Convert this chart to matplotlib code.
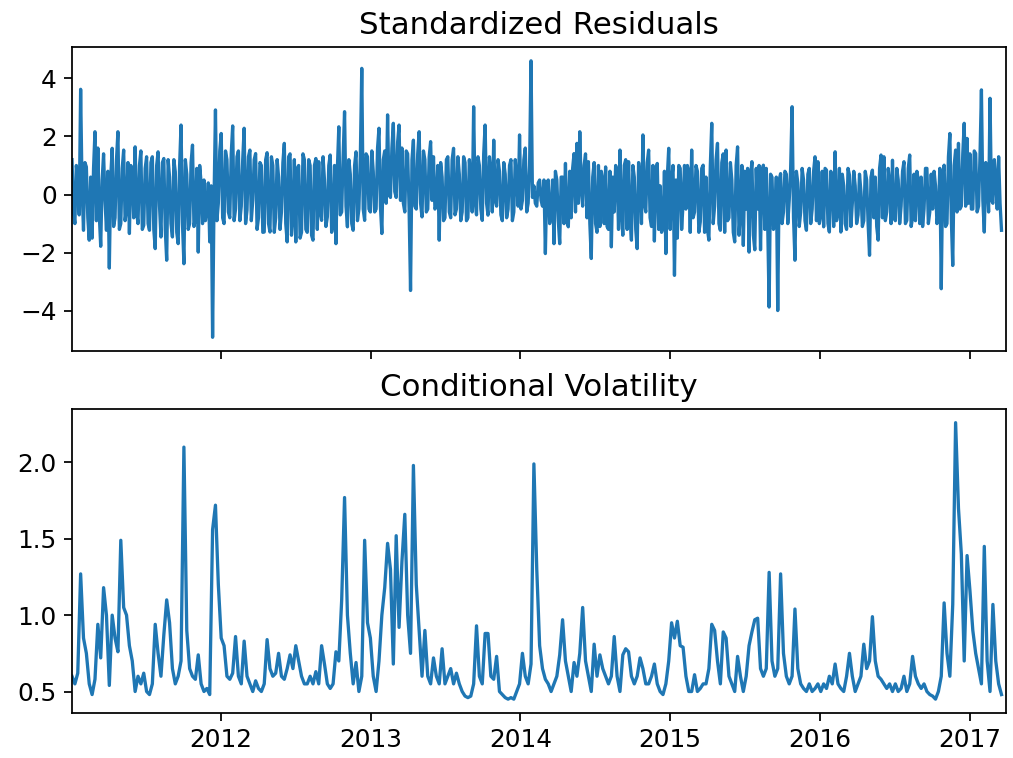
import matplotlib
matplotlib.use('Agg')
import matplotlib.pyplot as plt
import matplotlib.dates as mdates
import pandas as pd

# weekly readings of the GARCH fit output, Jan 2011 - Mar 2017
fecha_inicio = '2011-01-03'
fecha_fin = '2017-03-31'

# residuals read at the start of each week
residuos = [
    1.2, -1.0, 0.5, 3.62, -1.23, 0.95, -1.57, -1.5, 2.16, 1.6,
    -1.78, 1.4, -1.23, -2.53, 1.59, -0.8, 2.16, -1.0, 1.53, -0.5,
    -1.34, 0.8, 1.64, -1.0, 1.5, -1.06, 1.3, -1.23, 1.3, -1.86,
    1.47, -1.46, 1.24, -2.26, 0.6, -1.46, 0.78, -1.69, 2.39, -2.38,
    0.7, -1.0, 1.7, -0.8, -1.98, 0.4, 0.5, -0.5, -1.63, -4.91,
    2.91, -0.3, 2.1, -1.0, 1.2, -0.8, 2.36, -0.5, 1.5, -0.4,
    2.28, -0.54, 1.53, -0.2, 1.41, -0.8, 1.0, -1.29, 1.44, -1.29,
    1.0, -0.8, 0.6, -0.6, 1.76, -1.63, 1.4, -0.8, -1.63, 1.0,
    -1.3, 1.2, -1.3, 1.0, -1.57, 1.24, 1.13, -0.89, 0.5, -0.77,
    1.36, -1.0, -1.69, 2.33, -0.6, 2.85, -1.11, 0.7, -1.23, 1.47,
    -0.5, 4.34, -0.89, 1.3, -0.6, 0.8, -0.5, 2.28, -1.34, 1.5,
    2.74, -0.1, 2.45, -0.1, 2.39, 1.6, -0.6, 1.4, -3.3, 1.87,
    -0.5, 2.16, -0.77, 1.2, -0.5, 1.82, 1.3, -0.4, -1.57, 0.6,
    -0.8, 1.3, -0.8, 1.59, -0.5, 0.7, -0.6, 1.1, -0.8, 0.5,
    3.02, -0.7, 1.0, -0.89, 2.39, -0.71, 0.8, 1.87, -0.4, 0.8,
    -0.9, 0.7, -0.5, 1.2, -0.6, 0.5, 2.05, -0.2, 1.6, -0.3,
    4.6, 0.3, -0.4, 0.5, -0.4, -2.03, 0.5, -0.6, -1.69, 0.5,
    -1.69, 0.6, 1.07, -1.11, -0.8, 1.41, 1.76, 2.16, -0.4, 1.4,
    1.13, -2.2, 1.1, -1.3, -1.1, 0.5, 0.95, -1.2, -1.8, -0.6,
    0.8, 1.53, -1.4, 1.2, 1.13, -1.57, 0.6, -1.86, 0.5, 2.05,
    -0.6, 1.53, -1.1, -1.6, 1.07, 0.3, -1.1, -2.03, 1.59, 0.5,
    -2.78, -1.5, 0.9, -0.3, -0.5, 0.8, 1.53, -0.6, 0.8, -0.94,
    1.01, 0.6, -1.57, 2.45, -0.4, 1.76, -1.23, 1.4, 1.53, -0.8,
    0.5, -1.63, 1.64, -0.6, -1.75, -0.5, -1.98, 1.13, -1.9, -0.5,
    -1.9, 1.01, 0.9, -3.87, 0.6, -0.9, -3.99, 0.72, -0.6, 0.7,
    -0.2, 3.02, -2.26, 0.4, -0.6, 0.5, -1.23, 0.9, -0.5, 1.3,
    1.13, -0.7, -1.11, 0.84, -1.29, 0.5, 1.47, -0.6, -1.29, 0.3,
    -1.2, 0.67, -0.3, 0.3, -0.7, 0.1, -0.9, 0.5, -2.09, 0.84,
    0.6, -1.57, 1.36, 1.3, -0.6, 0.4, 1.18, -0.9, 0.5, -0.4,
    1.13, -0.89, 1.36, -0.8, -0.9, 0.5, 0.6, -0.5, 0.9, -0.6,
    -0.5, 0.3, -0.6, -3.24, 1.01, -1.0, 2.1, -2.44, 1.53, 1.76,
    -0.4, 2.45, 1.93, 1.4, -0.5, 1.41, -0.4, 3.6, -1.29, 0.5,
    3.31, -0.3, 0.5, 1.3, -1.23,
]

# residuals read at mid-week (between two weekly readings)
residuos_medio = [
    -0.6, 1.0, -0.7, 0.2, 1.1, -0.8, 0.6, 0.9, -0.9, -0.7,
    0.5, -0.2, 0.8, 0.6, -1.1, 1.2, -1.2, 0.9, -0.9, 1.1,
    1.0, -0.8, -0.6, 1.0, -1.2, 0.9, -1.0, 1.1, -1.2, 1.0,
    -0.4, 1.1, -1.2, 1.2, -1.0, 1.2, -1.3, 1.0, -1.0, 1.2,
    -1.2, 1.1, -1.1, 0.9, 1.0, -1.0, -0.9, 0.4, 0.3, -0.2,
    -0.9, 1.5, -0.8, 1.5, -0.6, 1.4, -0.9, 1.3, -0.9, 1.2,
    -1.0, 1.3, -0.9, 1.2, -1.2, 1.1, -1.3, 1.2, -1.0, 1.3,
    -1.3, 1.2, -1.2, 1.1, -1.0, 1.3, -1.4, 1.2, 0.9, -1.5,
    1.4, -1.2, 1.2, -1.4, 1.0, -1.2, -0.6, 1.3, -1.1, 1.0,
    -1.3, 1.0, 0.9, -0.7, 1.3, -0.4, 1.2, -1.0, 1.0, -0.9,
    1.3, -0.5, 1.4, -0.5, 1.5, -0.6, 1.6, -0.4, 1.2, -0.3,
    0.0, 1.6, 0.1, 1.8, -0.2, -0.3, 1.5, -0.5, 1.2, -0.4,
    1.4, -0.3, 1.5, -0.6, 1.3, -0.2, -0.5, 1.0, 1.1, -0.9,
    1.2, -0.6, 1.2, -0.7, 1.3, -0.9, 1.3, -0.9, 1.2, -0.6,
    -0.2, 1.3, -0.5, 1.4, -0.3, 1.3, -0.6, -0.2, 1.2, -0.7,
    1.1, -0.8, 1.0, -0.9, 1.2, -0.4, -0.5, 1.2, -0.6, 1.0,
    -0.1, -0.3, 0.4, -0.2, 0.5, 0.4, -1.0, 0.5, 0.8, -0.9,
    0.6, -1.0, -0.9, 0.8, 0.9, -0.6, -0.3, 0.2, 1.0, -0.8,
    -1.0, 0.6, -1.0, 1.0, 0.8, -1.0, -1.1, 0.8, 0.6, 1.0,
    -1.2, -0.6, 1.0, -1.2, -0.8, 1.0, -1.2, 1.1, -1.0, -0.3,
    1.1, -0.8, 1.0, 0.7, -1.2, -1.3, 0.8, 0.6, -1.2, 1.0,
    0.5, 1.0, -1.2, 1.0, 1.0, -1.3, -0.8, 1.0, -1.3, 0.9,
    -1.3, -1.2, 1.0, -1.0, 1.2, -1.0, 1.1, -1.3, -0.9, 1.1,
    -1.3, 1.0, -1.4, 1.0, 0.8, 0.9, 0.6, -1.4, 0.9, 1.0,
    0.8, -1.2, -1.0, 0.7, -1.2, 0.6, 0.5, -1.0, 0.8, -1.0,
    0.9, -0.8, 0.8, -1.1, 0.9, -0.9, 0.7, -1.0, 0.8, -0.9,
    -1.0, 0.8, 0.9, -1.0, 0.8, -1.1, -0.9, 0.9, 0.7, -1.0,
    0.9, -1.1, 0.8, -1.0, 0.7, -1.1, 0.8, -1.0, 0.6, -0.8,
    -1.1, 0.9, -0.8, -0.9, 0.9, -1.0, -0.8, 0.9, -1.0, 0.8,
    -1.0, 0.9, -1.1, 0.7, 0.8, -1.0, -1.1, 0.9, -1.0, 0.7,
    0.8, -1.0, 0.9, 0.6, -1.1, 1.3, -0.8, 1.0, -0.6, -0.5,
    1.4, -0.4, -0.3, -0.5, 1.5, -0.6, 1.3, -0.2, 1.1, -0.6,
    -0.2, 1.2, -0.5, -0.3,
]

volatilidad = [
    0.60, 0.55, 0.62, 1.27, 0.85, 0.75, 0.55, 0.48, 0.58, 0.94,
    0.72, 1.18, 1.0, 0.54, 1.0, 0.85, 0.76, 1.49, 1.05, 1.0,
    0.8, 0.7, 0.5, 0.6, 0.55, 0.62, 0.5, 0.48, 0.55, 0.94,
    0.75, 0.6, 0.87, 1.1, 0.95, 0.65, 0.55, 0.6, 0.7, 2.1,
    0.9, 0.65, 0.6, 0.58, 0.74, 0.55, 0.5, 0.52, 0.48, 1.56,
    1.72, 1.2, 0.85, 0.8, 0.6, 0.58, 0.62, 0.86, 0.6, 0.55,
    0.83, 0.6, 0.55, 0.5, 0.57, 0.52, 0.5, 0.55, 0.84, 0.65,
    0.6, 0.62, 0.75, 0.6, 0.58, 0.65, 0.74, 0.65, 0.8, 0.7,
    0.6, 0.55, 0.55, 0.6, 0.55, 0.63, 0.55, 0.8, 0.68, 0.55,
    0.52, 0.55, 0.76, 0.7, 1.1, 1.77, 1.0, 0.75, 0.55, 0.69,
    0.5, 0.6, 1.49, 0.95, 0.85, 0.6, 0.5, 0.7, 1.0, 1.18,
    1.47, 1.3, 0.68, 1.52, 0.92, 1.35, 1.66, 1.0, 0.75, 1.98,
    1.2, 0.9, 0.6, 0.9, 0.6, 0.55, 0.72, 0.6, 0.55, 0.78,
    0.55, 0.6, 0.65, 0.55, 0.62, 0.55, 0.5, 0.47, 0.46, 0.47,
    0.55, 0.93, 0.6, 0.55, 0.88, 0.88, 0.6, 0.58, 0.73, 0.5,
    0.48, 0.46, 0.45, 0.46, 0.45, 0.5, 0.55, 0.75, 0.6, 0.55,
    0.68, 1.99, 1.3, 0.8, 0.65, 0.58, 0.55, 0.5, 0.55, 0.6,
    0.74, 0.97, 0.7, 0.6, 0.5, 0.69, 0.6, 0.75, 1.05, 0.7,
    0.6, 0.5, 0.81, 0.6, 0.74, 0.65, 0.6, 0.55, 0.6, 0.86,
    0.6, 0.5, 0.74, 0.78, 0.76, 0.6, 0.55, 0.6, 0.72, 0.65,
    0.55, 0.55, 0.6, 0.68, 0.55, 0.5, 0.48, 0.55, 0.7, 0.95,
    0.85, 0.96, 0.8, 0.79, 0.6, 0.5, 0.5, 0.61, 0.5, 0.52,
    0.55, 0.55, 0.65, 0.94, 0.9, 0.7, 0.55, 0.89, 0.85, 0.6,
    0.55, 0.5, 0.73, 0.6, 0.5, 0.6, 0.8, 0.89, 0.97, 0.98,
    0.65, 0.6, 0.65, 1.28, 0.7, 0.6, 0.65, 1.27, 0.75, 0.6,
    0.55, 0.6, 1.04, 0.65, 0.55, 0.52, 0.5, 0.55, 0.5, 0.52,
    0.55, 0.5, 0.55, 0.52, 0.6, 0.55, 0.68, 0.55, 0.52, 0.5,
    0.6, 0.75, 0.6, 0.5, 0.55, 0.6, 0.81, 0.65, 0.7, 0.99,
    0.7, 0.6, 0.58, 0.55, 0.52, 0.55, 0.5, 0.55, 0.5, 0.52,
    0.6, 0.5, 0.55, 0.73, 0.6, 0.55, 0.52, 0.55, 0.5, 0.48,
    0.47, 0.45, 0.5, 0.6, 1.08, 0.75, 0.6, 1.07, 2.26, 1.7,
    1.4, 0.7, 1.39, 1.16, 0.9, 0.75, 0.65, 0.55, 1.45, 0.7,
    0.5, 1.07, 0.7, 0.55, 0.48,
]

fechas = pd.date_range(fecha_inicio, periods=len(volatilidad), freq='7D')

# weekly + mid-week readings, in time order
serie_res = []
for r, m in zip(residuos, residuos_medio):
    serie_res += [r, m]
serie_res.append(residuos[-1])
fechas_res = pd.date_range(fecha_inicio, periods=len(serie_res), freq='84h')

plt.rcParams['xtick.labelsize'] = 11.3
plt.rcParams['ytick.labelsize'] = 11.3
plt.rcParams['axes.titlesize'] = 14.1

fig, (ax1, ax2) = plt.subplots(2, 1, sharex=True, figsize=(1013 / 158, 758 / 158), dpi=158)
fig.subplots_adjust(left=0.0711, right=0.9931, top=0.938, bottom=0.0594, hspace=0.19)

ax1.plot(fechas_res, serie_res, color='#1f77b4', linewidth=1.5)
ax1.set_title('Standardized Residuals')

ax2.plot(fechas, volatilidad, color='#1f77b4', linewidth=1.5)
ax2.set_title('Conditional Volatility')

ax2.set_xlim(pd.Timestamp(fecha_inicio), pd.Timestamp(fecha_fin))
ax2.xaxis.set_major_locator(mdates.YearLocator())
ax2.xaxis.set_major_formatter(mdates.DateFormatter('%Y'))
ax2.set_yticks([0.5, 1.0, 1.5, 2.0])

plt.savefig('out.png', dpi=158)
plt.close()
